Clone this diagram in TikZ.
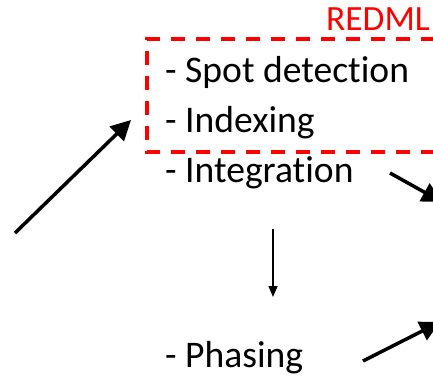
\documentclass[tikz,border=0pt]{standalone}
\usepackage{fontspec}
\setmainfont[Ligatures={NoCommon}]{Carlito}
\usetikzlibrary{arrows.meta}
\tikzset{
  step text/.style={anchor=base west,inner sep=0pt,font=\fontsize{37.6}{44}\selectfont},
  thick arrow/.style={line width=3.5pt,-{Triangle[length=20pt,width=20pt]}},
  thin arrow/.style={line width=1.5pt,-{Triangle[length=11pt,width=9pt]}}
}
\begin{document}
\begin{tikzpicture}[x=1pt,y=-1pt]
\useasboundingbox (0,0) rectangle (433,376);
\clip (0,0) rectangle (433,376);
\node[step text] (spot) at (165,82) {- Spot detection};
\node[step text] (index) at (165,132) {- Indexing};
\node[step text] (integ) at (165,182) {- Integration};
\node[step text] (phas) at (165,367) {- Phasing};
\node[anchor=base east,inner sep=0pt,color=red,font=\fontsize{35.5}{42}\selectfont] (redml) at (430,30) {REDML};
\draw [line width=4pt,color=red,dash pattern=on 14pt off 11pt] (460,39) -- (147,39) -- (147,152) -- (460,152);
\coordinate (in) at (15,233);
\coordinate (in tip) at (131,120);
\coordinate (out1) at (390,173);
\coordinate (out1 tip) at (442,202);
\coordinate (down) at (273,229);
\coordinate (down tip) at (273,297);
\coordinate (out2) at (363,361);
\coordinate (out2 tip) at (440,322);
\draw [thick arrow] (in) -- (in tip);
\draw [thick arrow] (out1) -- (out1 tip);
\draw [thin arrow] (down) -- (down tip);
\draw [thick arrow] (out2) -- (out2 tip);
\end{tikzpicture}
\end{document}
